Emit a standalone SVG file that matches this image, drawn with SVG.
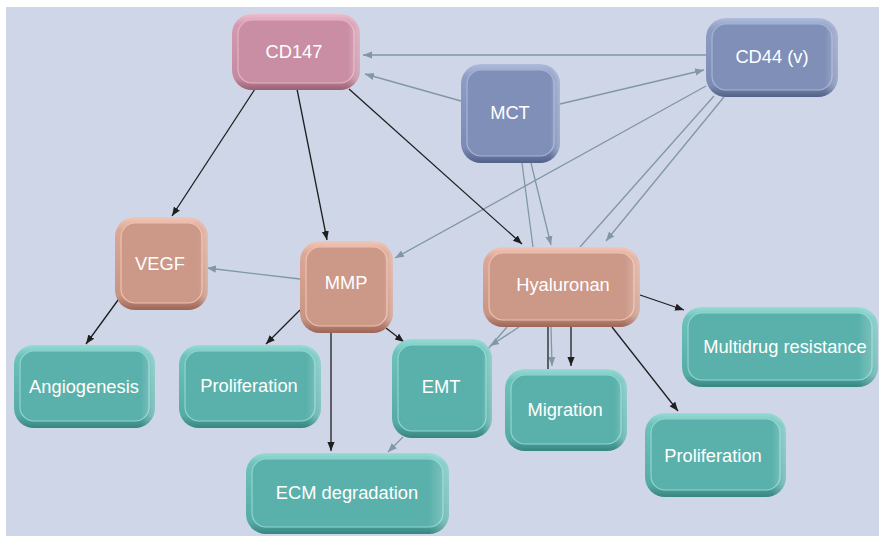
<svg xmlns="http://www.w3.org/2000/svg" width="879" height="536" viewBox="0 0 879 536">
  <style>
    .rim { stroke: none; }
    .face { stroke-width: 1.2; }
    .gloss { fill: url(#sideGloss); }
    .label { font-family: "Liberation Sans", Arial, sans-serif; font-size: 18.3px; fill: #ffffff; text-anchor: middle; }
    .pink .rim { fill: url(#pinkRim); } .pink .face { fill: #c98ea3; stroke: #e7b3c4; }
    .blue .rim { fill: url(#blueRim); } .blue .face { fill: #7f8fb8; stroke: #a7b4d6; }
    .salmon .rim { fill: url(#salmonRim); } .salmon .face { fill: #cc9888; stroke: #efc0af; }
    .teal .rim { fill: url(#tealRim); } .teal .face { fill: #5ab1ac; stroke: #8fd5cf; }
    .dark { stroke: #1f1f1f; stroke-width: 1.3; fill: none; marker-end: url(#headDark); }
    .grey { stroke: #8197a6; stroke-width: 1.3; fill: none; marker-end: url(#headGrey); }
    .grey.plain { marker-end: none; }
    .dark.plain { marker-end: none; }
  </style>
  <defs>
    <linearGradient id="pinkRim" x1="0" y1="0" x2="0" y2="1">
      <stop offset="0" stop-color="#ecbccb"/>
      <stop offset="0.14" stop-color="#d49bb0"/>
      <stop offset="0.85" stop-color="#c48a9f"/>
      <stop offset="1" stop-color="#9a6075"/>
    </linearGradient>
    <linearGradient id="blueRim" x1="0" y1="0" x2="0" y2="1">
      <stop offset="0" stop-color="#aebbdc"/>
      <stop offset="0.14" stop-color="#8d9cc3"/>
      <stop offset="0.85" stop-color="#7b8bb4"/>
      <stop offset="1" stop-color="#536187"/>
    </linearGradient>
    <linearGradient id="salmonRim" x1="0" y1="0" x2="0" y2="1">
      <stop offset="0" stop-color="#f1c6b6"/>
      <stop offset="0.14" stop-color="#dca796"/>
      <stop offset="0.85" stop-color="#c89483"/>
      <stop offset="1" stop-color="#9c6656"/>
    </linearGradient>
    <linearGradient id="tealRim" x1="0" y1="0" x2="0" y2="1">
      <stop offset="0" stop-color="#97dbd5"/>
      <stop offset="0.14" stop-color="#6cc1bb"/>
      <stop offset="0.85" stop-color="#56aba6"/>
      <stop offset="1" stop-color="#378580"/>
    </linearGradient>
    <linearGradient id="sideGloss" x1="0" y1="0" x2="1" y2="0">
      <stop offset="0" stop-color="#ffffff" stop-opacity="0"/>
      <stop offset="0.9" stop-color="#ffffff" stop-opacity="0"/>
      <stop offset="1" stop-color="#ffffff" stop-opacity="0.28"/>
    </linearGradient>
    <marker id="headDark" viewBox="0 0 10 10" refX="10" refY="5" markerWidth="9" markerHeight="9" markerUnits="userSpaceOnUse" orient="auto">
      <path d="M0,1 L10,5 L0,9 Z" fill="#1f1f1f"/>
    </marker>
    <marker id="headGrey" viewBox="0 0 10 10" refX="10" refY="5" markerWidth="9" markerHeight="9" markerUnits="userSpaceOnUse" orient="auto">
      <path d="M0,1 L10,5 L0,9 Z" fill="#8197a6"/>
    </marker>
  </defs>

  <!-- panel -->
  <rect x="6" y="7" width="873" height="529" fill="#cfd6e8"/>

  <!-- connectors -->
  <g id="connectors">
    <!-- grey links -->
    <line class="grey" x1="706" y1="55" x2="363" y2="55"/>
    <line class="grey" x1="461" y1="101" x2="365" y2="74"/>
    <line class="grey" x1="560" y1="104" x2="704" y2="70"/>
    <line class="grey" x1="706" y1="86" x2="395" y2="258"/>
    <line class="grey plain" x1="714" y1="96" x2="580" y2="247"/>
    <line class="grey" x1="724" y1="97" x2="606" y2="241"/>
    <line class="grey plain" x1="522" y1="163" x2="533" y2="247"/>
    <line class="grey" x1="531" y1="163" x2="551" y2="245"/>
    <line class="grey" x1="300" y1="279" x2="207" y2="268"/>
    <line class="grey plain" x1="507" y1="327" x2="488" y2="349"/>
    <line class="grey" x1="519" y1="327" x2="490" y2="346"/>
    <line class="grey" x1="551" y1="327" x2="552" y2="366"/>
    <line class="grey" x1="403" y1="437" x2="388" y2="452"/>
    <!-- dark links -->
    <line class="dark" x1="255" y1="89" x2="172" y2="216"/>
    <line class="dark" x1="297" y1="89" x2="327" y2="240"/>
    <line class="dark" x1="349" y1="89" x2="522" y2="244"/>
    <line class="dark" x1="121" y1="296" x2="86" y2="344"/>
    <line class="dark" x1="300" y1="310" x2="266" y2="344"/>
    <line class="dark" x1="331" y1="333" x2="331" y2="451"/>
    <line class="dark" x1="386" y1="328" x2="404" y2="342"/>
    <line class="dark plain" x1="548" y1="327" x2="548" y2="369"/>
    <line class="dark" x1="571" y1="327" x2="571" y2="366"/>
    <line class="dark" x1="640" y1="295" x2="684" y2="310"/>
    <line class="dark" x1="612" y1="327" x2="678" y2="411"/>
  </g>

  <!-- nodes -->
  <g id="cd147" class="pink">
    <rect class="rim" x="232" y="14" width="128" height="76" rx="20"/>
    <rect class="face" x="238" y="20" width="116" height="63" rx="14"/>
    <rect class="gloss" x="232" y="14" width="128" height="76" rx="20"/>
    <text class="label" x="294" y="58">CD147</text>
  </g>
  <g id="cd44" class="blue">
    <rect class="rim" x="706" y="18" width="132" height="79" rx="20"/>
    <rect class="face" x="712" y="24" width="120" height="66" rx="14"/>
    <rect class="gloss" x="706" y="18" width="132" height="79" rx="20"/>
    <text class="label" x="772" y="63">CD44 (v)</text>
  </g>
  <g id="mct" class="blue">
    <rect class="rim" x="461" y="64" width="99" height="99" rx="20"/>
    <rect class="face" x="467" y="70" width="87" height="86" rx="14"/>
    <rect class="gloss" x="461" y="64" width="99" height="99" rx="20"/>
    <text class="label" x="510" y="119">MCT</text>
  </g>
  <g id="vegf" class="salmon">
    <rect class="rim" x="115" y="217" width="93" height="93" rx="20"/>
    <rect class="face" x="121" y="223" width="81" height="80" rx="14"/>
    <rect class="gloss" x="115" y="217" width="93" height="93" rx="20"/>
    <text class="label" x="160" y="270">VEGF</text>
  </g>
  <g id="mmp" class="salmon">
    <rect class="rim" x="300" y="241" width="93" height="92" rx="20"/>
    <rect class="face" x="306" y="247" width="81" height="79" rx="14"/>
    <rect class="gloss" x="300" y="241" width="93" height="92" rx="20"/>
    <text class="label" x="346" y="289">MMP</text>
  </g>
  <g id="hyaluronan" class="salmon">
    <rect class="rim" x="483" y="247" width="157" height="80" rx="20"/>
    <rect class="face" x="489" y="253" width="145" height="67" rx="14"/>
    <rect class="gloss" x="483" y="247" width="157" height="80" rx="20"/>
    <text class="label" x="563" y="291">Hyaluronan</text>
  </g>
  <g id="angiogenesis" class="teal">
    <rect class="rim" x="14" y="345" width="141" height="83" rx="20"/>
    <rect class="face" x="20" y="351" width="129" height="70" rx="14"/>
    <rect class="gloss" x="14" y="345" width="141" height="83" rx="20"/>
    <text class="label" x="84" y="393">Angiogenesis</text>
  </g>
  <g id="proliferation-mmp" class="teal">
    <rect class="rim" x="179" y="345" width="142" height="83" rx="20"/>
    <rect class="face" x="185" y="351" width="130" height="70" rx="14"/>
    <rect class="gloss" x="179" y="345" width="142" height="83" rx="20"/>
    <text class="label" x="249" y="392">Proliferation</text>
  </g>
  <g id="emt" class="teal">
    <rect class="rim" x="392" y="339" width="100" height="99" rx="20"/>
    <rect class="face" x="398" y="345" width="88" height="86" rx="14"/>
    <rect class="gloss" x="392" y="339" width="100" height="99" rx="20"/>
    <text class="label" x="441" y="393">EMT</text>
  </g>
  <g id="migration" class="teal">
    <rect class="rim" x="505" y="369" width="122" height="82" rx="20"/>
    <rect class="face" x="511" y="375" width="110" height="69" rx="14"/>
    <rect class="gloss" x="505" y="369" width="122" height="82" rx="20"/>
    <text class="label" x="565" y="416">Migration</text>
  </g>
  <g id="multidrug" class="teal">
    <rect class="rim" x="682" y="307" width="196" height="80" rx="20"/>
    <rect class="face" x="688" y="313" width="184" height="67" rx="14"/>
    <rect class="gloss" x="682" y="307" width="196" height="80" rx="20"/>
    <text class="label" x="785" y="353">Multidrug resistance</text>
  </g>
  <g id="proliferation-hyaluronan" class="teal">
    <rect class="rim" x="645" y="413" width="141" height="84" rx="20"/>
    <rect class="face" x="651" y="419" width="129" height="71" rx="14"/>
    <rect class="gloss" x="645" y="413" width="141" height="84" rx="20"/>
    <text class="label" x="713" y="462">Proliferation</text>
  </g>
  <g id="ecm" class="teal">
    <rect class="rim" x="246" y="453" width="203" height="81" rx="20"/>
    <rect class="face" x="252" y="459" width="191" height="68" rx="14"/>
    <rect class="gloss" x="246" y="453" width="203" height="81" rx="20"/>
    <text class="label" x="347" y="499">ECM degradation</text>
  </g>
</svg>
